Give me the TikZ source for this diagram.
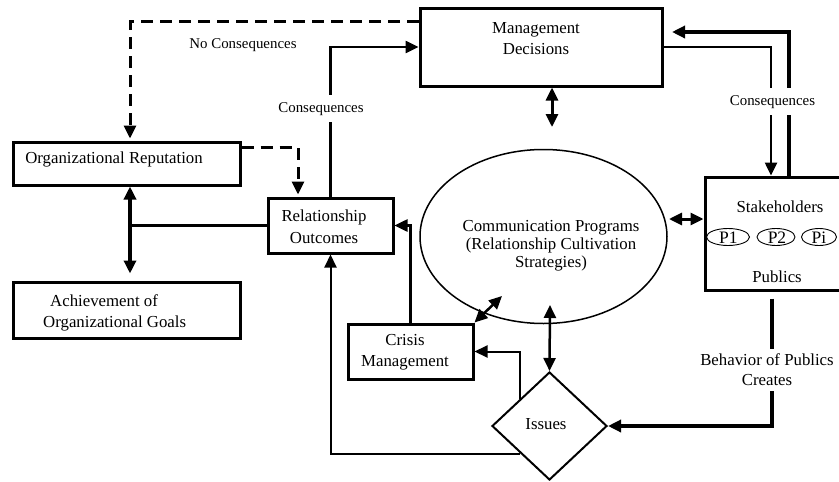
\documentclass[tikz,border=0pt]{standalone}
\usepackage{fontspec}
\setmainfont{Liberation Serif}
\usetikzlibrary{arrows.meta,shapes.geometric,calc}
\newcommand\fsz[2]{\fontsize{#1}{#2}\selectfont}
\begin{document}
\begin{tikzpicture}[x=1pt,y=-1pt,
  box/.style={draw, line width=3pt, rectangle, inner sep=0pt},
  txt/.style={font=\fsz{16.8}{21.5}, align=center, inner sep=0pt},
  etxt/.style={font=\fsz{16.8}{18}, align=center, inner sep=0pt},
  ptxt/.style={font=\fsz{17.5}{20}, inner sep=0pt},
  pell/.style={draw, ellipse, line width=0.9pt, inner sep=0pt},
  lbl/.style={font=\fsz{14.9}{17}, fill=white, inner xsep=2pt, inner ysep=7pt},
  blbl/.style={font=\fsz{16.8}{20}, fill=white, inner xsep=2pt, inner ysep=5pt, align=center},
  tip/.tip={Triangle[length=13pt,width=12pt]},
  ln/.style={line width=2.5pt},
  arr/.style={line width=2.5pt, -tip},
  arrthick/.style={line width=4pt, -tip},
  dbl/.style={line width=3pt, tip-tip},
  dblthick/.style={line width=4pt, tip-tip},
  dsh/.style={line width=3pt, dash pattern=on 12pt off 7pt, -tip}
]
\useasboundingbox (0,0) rectangle (839,482);
\clip (0,0) rectangle (839,482);

% boxes
\node[box, minimum width=242pt, minimum height=78pt] (mgmt) at (541,47) {};
\node[txt] (mgmtT) at (536,38.5) {Management\\Decisions};
\node[box, minimum width=227pt, minimum height=43pt] (orep) at (126.5,163.5) {};
\node[txt, anchor=base] (orepT) at (114,163) {Organizational Reputation};
\node[box, minimum width=227pt, minimum height=56pt] (ach) at (126.5,310) {};
\node[txt, align=left, anchor=west] (achT) at (43,313) {\hspace*{7pt}Achievement of\\Organizational Goals};
\node[box, minimum width=125pt, minimum height=55pt] (ro) at (330.5,225.5) {};
\node[txt] (roT) at (324,227) {Relationship\\Outcomes};
\node[box, minimum width=125pt, minimum height=55pt] (crisis) at (410.5,351.5) {};
\node[txt] (crisisT) at (405,352) {Crisis\\Management};
\node[box, minimum width=147pt, minimum height=113pt] (stake) at (778.5,233.5) {};
\node[txt, anchor=base] (stakeT) at (780,212) {Stakeholders};
\node[txt, anchor=base] (pubT) at (777,282) {Publics};
\node[pell, minimum width=43pt, minimum height=17pt] (p1) at (728,237) {};
\node[pell, minimum width=38pt, minimum height=17pt] (p2) at (776,237) {};
\node[pell, minimum width=35pt, minimum height=17pt] (pi) at (819,237) {};
\node[ptxt, anchor=base] (p1T) at (728.3,243) {P1};
\node[ptxt, anchor=base] (p2T) at (777,243) {P2};
\node[ptxt, anchor=base] (piT) at (819,243) {Pi};

% ellipse and diamond
\node[draw, ellipse, line width=1.5pt, minimum width=247pt, minimum height=174pt, inner sep=0pt] (comm) at (543.5,236.5) {};
\node[etxt] (commT) at (551,246) {Communication Programs\\(Relationship Cultivation\\Strategies)};
\node[draw, diamond, line width=2pt, minimum width=115pt, minimum height=108pt, inner sep=0pt] (issues) at (549.5,426) {};
\node[txt, anchor=base] (issuesT) at (546,429) {Issues};

% helper coordinates
\coordinate (vx) at (130,0);
\coordinate (ce) at (502,296);
\coordinate (ie) at (550,305);
\coordinate (me) at (552,127);
\coordinate (ee) at (669,219);
\coordinate (rx1) at (771,0);
\coordinate (rx2) at (789,0);
\coordinate (rx3) at (772,0);
\coordinate (mt) at (672,32);

% connectors
\draw[dsh] ([yshift=-15pt]mgmt.north west) -| ([yshift=2pt]orep.north -| vx);
\node[font=\fsz{14.9}{17}, anchor=base, inner sep=0pt] (nocons) at (243,48) {No Consequences};
\draw[dsh] ([yshift=-7pt]orep.north east) -| ([xshift=-32.5pt,yshift=2pt]ro.north);
\draw[dblthick] ([xshift=3.5pt]orep.south) -- ([xshift=3.5pt,yshift=7pt]ach.north);
\draw[ln] (ro.west) -- (ro.west -| vx);
\draw[arr] (ro.north) |- (mgmt.west);
\node[lbl, anchor=base] (cons1) at (321,112) {Consequences};
\draw[arr] (crisis.north) |- (ro.east);
\draw[arr, line width=2pt] (issues.south west) -| (ro.south);
\draw[arr, line width=2pt] (issues.north west) |- (crisis.east);
\draw[dbl, line width=2.5pt] (crisis.north east) -- (ce);
\draw[dbl, line width=2.5pt] (issues.north) -- (ie);
\draw[dbl] (me |- mgmt.south) -- (me);
\draw[dbl] (ee) -- (ee -| stake.west);
\draw[arr] (mgmt.east) -| (stake.north -| rx1);
\draw[arrthick] (stake.north -| rx2) |- (mt);
\node[lbl, anchor=base] (cons2) at (772.5,105) {Consequences};
\draw[arrthick, shorten <=7pt] (stake.south -| rx3) |- (issues.east);
\node[blbl] (behav) at (767,370) {Behavior of Publics\\Creates};
\end{tikzpicture}
\end{document}
